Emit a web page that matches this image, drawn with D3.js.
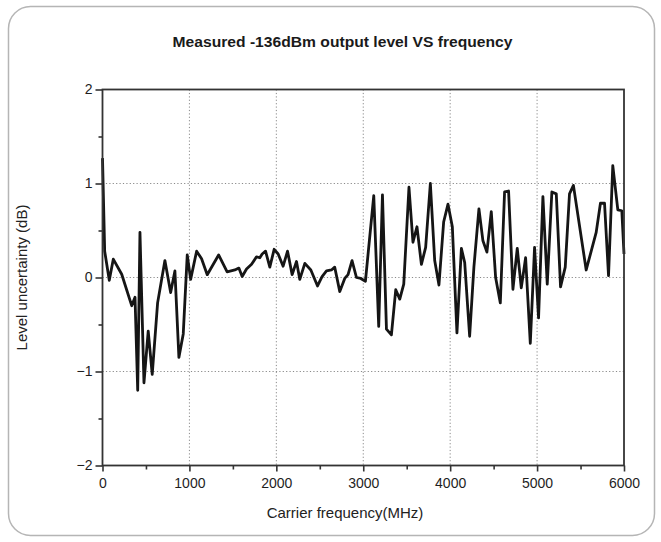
<!DOCTYPE html>
<html>
<head>
<meta charset="utf-8">
<script src="https://cdn.jsdelivr.net/npm/d3@7"></script>
<style>
  html, body { margin: 0; padding: 0; background: #fff; }
  svg { display: block; }
  text { font-family: "Liberation Sans", Arial, sans-serif; }
</style>
</head>
<body>
<svg id="chart" width="661" height="542"></svg>
<script>
const title = "Measured -136dBm output level VS frequency";
const xTitle = "Carrier frequency(MHz)";
const yTitle = "Level uncertainty (dB)";

const xTicks = [0, 1000, 2000, 3000, 4000, 5000, 6000];
const xMinorTicks = [500, 1500, 2500, 3500, 4500, 5500];
const yTicks = [-2, -1, 0, 1, 2];
const yMinorTicks = [-1.5, -0.5, 0.5, 1.5];
const xGrid = [1000, 2000, 3000, 4000, 5000];
const yGrid = [-1, 0, 1];

const freqMHz = [0, 25, 78, 124, 221, 336, 374, 405, 431, 477, 526, 572, 634, 718, 784, 833, 879, 929, 975, 1014,
  1083, 1140, 1205, 1336, 1434, 1523, 1569, 1607, 1657, 1715, 1772, 1810, 1837, 1876, 1925, 1975, 2021, 2078, 2129, 2182,
  2232, 2270, 2328, 2397, 2474, 2526, 2577, 2634, 2672, 2730, 2787, 2825, 2871, 2922, 2971, 3025, 3121, 3178, 3221, 3267,
  3324, 3374, 3420, 3466, 3526, 3572, 3618, 3669, 3718, 3772, 3822, 3871, 3925, 3975, 4025, 4078, 4129, 4167, 4224, 4273,
  4331, 4377, 4423, 4473, 4523, 4577, 4626, 4672, 4722, 4772, 4818, 4868, 4922, 4971, 5017, 5067, 5117, 5170, 5221, 5270,
  5324, 5373, 5418, 5565, 5680, 5729, 5776, 5822, 5871, 5929, 5975, 6000];
const levelDB = [1.27, 0.28, -0.03, 0.195, 0.035, -0.30, -0.21, -1.2, 0.48, -1.12, -0.57, -1.03, -0.27, 0.18, -0.16, 0.07, -0.85, -0.6, 0.24, -0.02,
  0.28, 0.2, 0.03, 0.24, 0.06, 0.08, 0.10, 0.01, 0.09, 0.14, 0.22, 0.21, 0.25, 0.28, 0.11, 0.30, 0.25, 0.12, 0.28, 0.03,
  0.17, -0.02, 0.15, 0.08, -0.09, 0.01, 0.07, 0.08, 0.11, -0.15, -0.01, 0.03, 0.18, 0.0, -0.01, -0.04, 0.87, -0.52, 0.88, -0.55,
  -0.61, -0.13, -0.23, -0.07, 0.96, 0.375, 0.54, 0.14, 0.32, 1.0, 0.18, -0.08, 0.59, 0.78, 0.54, -0.59, 0.31, 0.16, -0.625, 0.11,
  0.73, 0.39, 0.27, 0.70, 0.0, -0.27, 0.91, 0.92, -0.125, 0.31, -0.11, 0.21, -0.70, 0.32, -0.43, 0.86, -0.07, 0.91, 0.89, -0.1,
  0.11, 0.89, 0.98, 0.08, 0.48, 0.79, 0.79, 0.02, 1.19, 0.72, 0.71, 0.25];

const svg = d3.select("#chart");
const plot = { left: 102.5, right: 624, top: 89.5, bottom: 465.5 };

// outer rounded frame
svg.append("rect")
  .attr("x", 8.5).attr("y", 6.5)
  .attr("width", 646).attr("height", 529)
  .attr("rx", 22).attr("ry", 22)
  .attr("fill", "#fff").attr("stroke", "#b5b5b5").attr("stroke-width", 1.5);

const x = d3.scaleLinear().domain([0, 6000]).range([plot.left, plot.right]);
const y = d3.scaleLinear().domain([-2, 2]).range([plot.bottom, plot.top]);

// grid
const grid = svg.append("g").attr("stroke", "#8a8a8a").attr("stroke-width", 1).attr("stroke-dasharray", "1.2,2.2");
grid.selectAll("line.gx").data(xGrid).join("line")
  .attr("x1", d => x(d)).attr("x2", d => x(d))
  .attr("y1", plot.top).attr("y2", plot.bottom);
grid.selectAll("line.gy").data(yGrid).join("line")
  .attr("x1", plot.left).attr("x2", plot.right)
  .attr("y1", d => y(d)).attr("y2", d => y(d));

// data line
const line = d3.line().x((d, i) => x(freqMHz[i])).y(d => y(d));
svg.append("path")
  .datum(levelDB)
  .attr("d", line)
  .attr("fill", "none")
  .attr("stroke", "#151515")
  .attr("stroke-width", 2.8)
  .attr("stroke-linejoin", "round");

// axes
const axisColor = "#333";
const xAxis = svg.append("g").attr("transform", `translate(0,${plot.bottom})`)
  .call(d3.axisBottom(x).tickValues(xTicks).tickSize(6).tickPadding(7).tickFormat(d3.format("d")));
const xMinor = svg.append("g").attr("transform", `translate(0,${plot.bottom})`)
  .call(d3.axisBottom(x).tickValues(xMinorTicks).tickSize(4).tickFormat(""));
const yAxis = svg.append("g").attr("transform", `translate(${plot.left},0)`)
  .call(d3.axisLeft(y).tickValues(yTicks).tickSize(7).tickPadding(3).tickFormat(d3.format("d")));
const yMinor = svg.append("g").attr("transform", `translate(${plot.left},0)`)
  .call(d3.axisLeft(y).tickValues(yMinorTicks).tickSize(4).tickFormat(""));

[xAxis, xMinor, yAxis, yMinor].forEach(g => {
  g.select(".domain").remove();
  g.selectAll(".tick line").attr("stroke", axisColor).attr("stroke-width", 1.6);
  g.selectAll(".tick text").attr("fill", "#1e1e1e").attr("font-size", 14)
    .attr("font-family", "'Liberation Sans', Arial, sans-serif");
});

// frame box of plot
svg.append("rect")
  .attr("x", plot.left).attr("y", plot.top)
  .attr("width", plot.right - plot.left).attr("height", plot.bottom - plot.top)
  .attr("fill", "none").attr("stroke", axisColor).attr("stroke-width", 1.8);

// titles
svg.append("text")
  .attr("x", 342.5).attr("y", 47)
  .attr("text-anchor", "middle")
  .attr("font-size", 14).attr("font-weight", "bold").attr("fill", "#1a1a1a")
  .attr("textLength", 340).attr("lengthAdjust", "spacingAndGlyphs")
  .text(title);

svg.append("text")
  .attr("x", 345).attr("y", 518)
  .attr("text-anchor", "middle")
  .attr("font-size", 15).attr("fill", "#222")
  .text(xTitle);

svg.append("text")
  .attr("transform", `translate(27,${(plot.top + plot.bottom) / 2}) rotate(-90)`)
  .attr("text-anchor", "middle")
  .attr("font-size", 15).attr("fill", "#222")
  .text(yTitle);
</script>
</body>
</html>
